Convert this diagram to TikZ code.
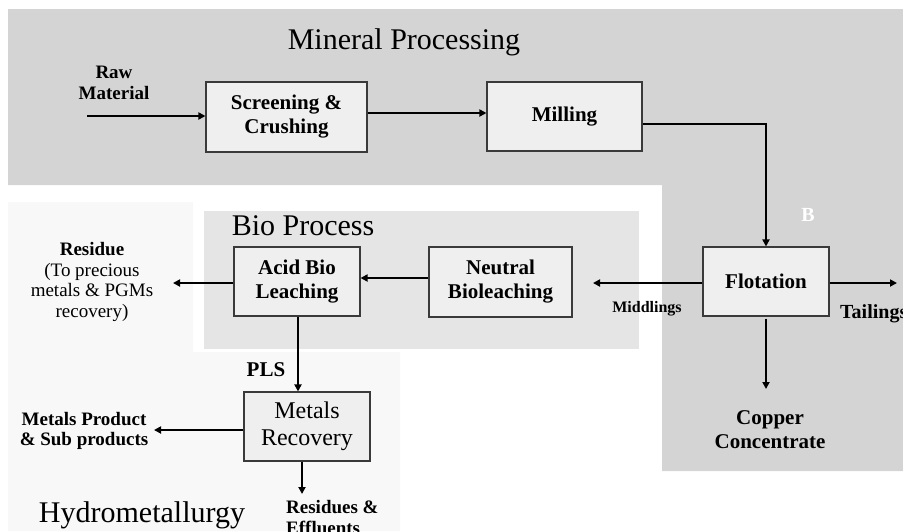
\documentclass[tikz,border=0pt]{standalone}
\usepackage{fontspec}
\setmainfont{Liberation Serif}
\usetikzlibrary{arrows.meta}
\definecolor{mineralgray}{HTML}{D4D4D4}
\definecolor{biogray}{HTML}{E5E5E5}
\definecolor{hydrogray}{HTML}{F8F8F8}
\definecolor{boxfill}{HTML}{EFEFEF}
\definecolor{boxborder}{HTML}{3A3A3A}
\begin{document}
\begin{tikzpicture}[x=1pt,y=-1pt,
  procbox/.style={draw=boxborder, fill=boxfill, line width=1.1pt, inner sep=0pt, align=center,
    font=\fontsize{21}{24}\selectfont\bfseries},
  flow/.style={line width=2pt, -{Triangle[length=7pt,width=7pt]}},
  lbl/.style={inner sep=0pt, align=center, font=\fontsize{19}{20.5}\selectfont\bfseries},
  region/.style={font=\fontsize{30}{32}\selectfont, inner sep=0pt}
]
\useasboundingbox (0,0) rectangle (903,531);
\clip (0,0) rectangle (903,531);
% regions
\fill[mineralgray] (8,9) -- (903,9) -- (903,471) -- (662,471) -- (662,185) -- (8,185) -- cycle;
\fill[hydrogray] (8,202) -- (193,202) -- (193,352) -- (400,352) -- (400,531) -- (8,531) -- cycle;
\fill[biogray] (204,211) rectangle (639,349);
\node[region] (tmin) at (404,42) {Mineral Processing};
\node[region] (tbio) at (303,226) {Bio Process};
\node[region, anchor=base] (thyd) at (142,522) {Hydrometallurgy};
% boxes
\node[procbox, minimum width=161, minimum height=70] (scr) at (286.5,117) {Screening \&\\Crushing};
\node[procbox, minimum width=155, minimum height=69] (mill) at (564.5,116.5) {Milling};
\node[procbox, minimum width=126, minimum height=69] (flot) at (766,281.5) {Flotation};
\node[procbox, minimum width=143, minimum height=70] (neut) at (500.5,282) {Neutral\\Bioleaching};
\node[procbox, minimum width=126, minimum height=69] (acid) at (297,281.5) {Acid Bio\\Leaching};
\node[procbox, minimum width=126, minimum height=69, font=\fontsize{24}{27}\selectfont] (metr) at (307,426.5) {Metals\\Recovery};
% labels
\node[lbl] (raw) at (114,83) {Raw\\Material};
\node[lbl, font=\fontsize{20}{20}\selectfont\bfseries, text=white] (b) at (808,215) {B};
\node[lbl, font=\fontsize{16}{18}\selectfont\bfseries] (mid) at (647,309) {Middlings};
\node[lbl, anchor=west, font=\fontsize{20}{22}\selectfont\bfseries] (tail) at (840,314) {Tailings};
\node[lbl, font=\fontsize{21}{24}\selectfont\bfseries] (cu) at (770,430) {Copper\\Concentrate};
\node[lbl, font=\fontsize{19}{20.5}\selectfont] (res) at (92,282) {\textbf{Residue}\\(To precious\\metals \& PGMs\\recovery)};
\node[lbl, font=\fontsize{21}{24}\selectfont\bfseries] (pls) at (266,370) {PLS};
\node[lbl, font=\fontsize{19}{20}\selectfont\bfseries] (mp) at (84,431) {Metals Product\\\& Sub products};
\node[lbl, anchor=base west] (re1) at (286,513) {Residues \&};
\node[lbl, anchor=base west] (re2) at (286,534) {Effluents};
% coordinates
\coordinate (rawin) at (87,116);
\coordinate (midout) at (593,283);
\coordinate (tailout) at (897,283);
\coordinate (cuout) at (766,389);
\coordinate (resout) at (173,283);
\coordinate (mpout) at (154,430);
\coordinate (reout) at (302,494);
% connectors
\draw[flow] (rawin) -- (rawin -| scr.west);
\draw[flow] ([yshift=4pt]scr.east) -- ([yshift=4pt]scr.east -| mill.west);
\draw[flow] ([yshift=-7.5pt]mill.east) -| (flot.north);
\draw[flow] ([yshift=-1.5pt]flot.west) -- (midout);
\draw[flow] ([yshift=-1.5pt]flot.east) -- (tailout);
\draw[flow] ([yshift=-2pt]flot.south) -- (cuout);
\draw[flow] ([yshift=4pt]neut.west) -- ([yshift=4pt]neut.west -| acid.east);
\draw[flow] ([yshift=-1.5pt]acid.west) -- (resout);
\draw[flow] ([xshift=1pt]acid.south) -- ([xshift=1pt]acid.south |- metr.north);
\draw[flow] ([yshift=-3.5pt]metr.west) -- (mpout);
\draw[flow] (metr.south -| reout) -- (reout);
\end{tikzpicture}
\end{document}
